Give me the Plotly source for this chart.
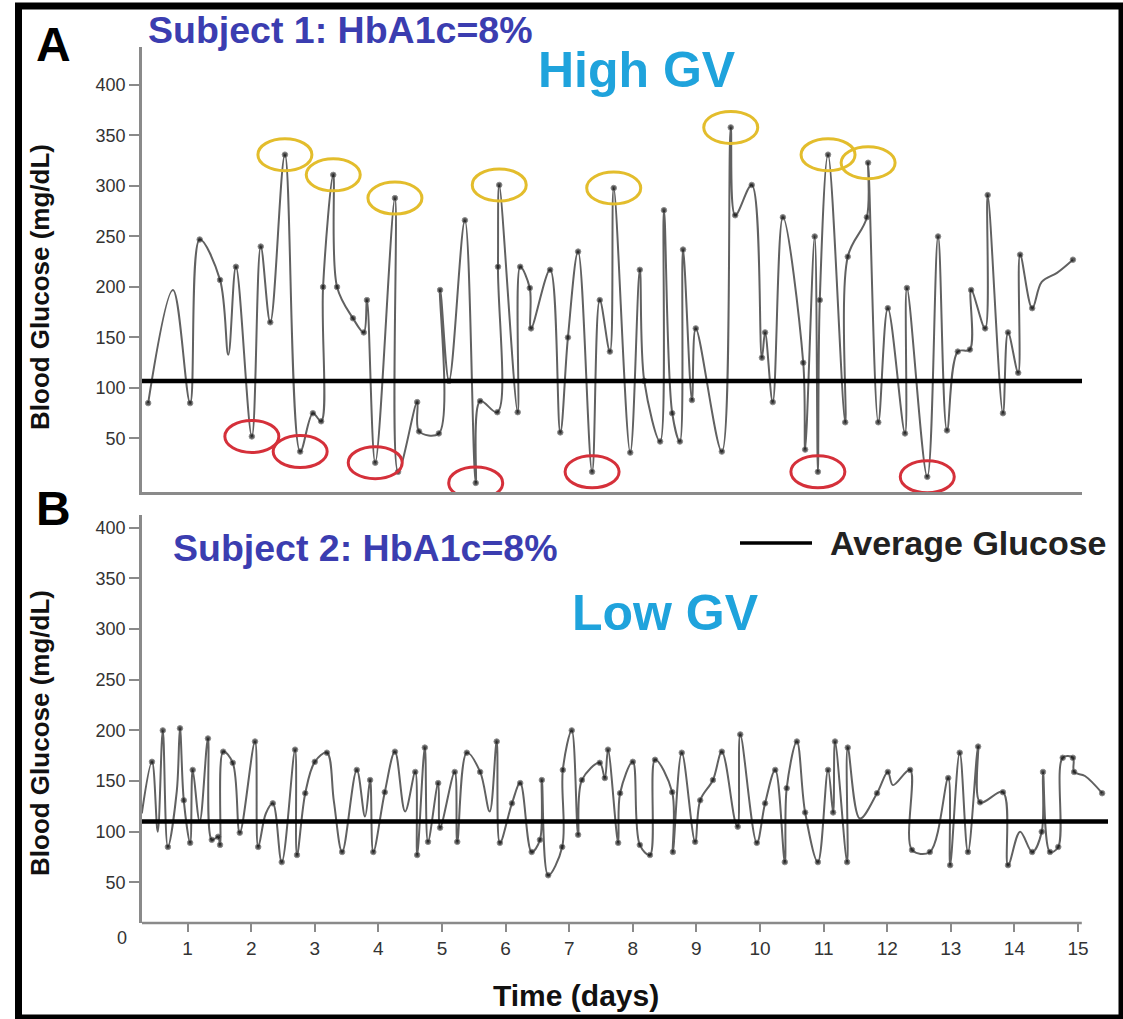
import plotly.graph_objects as go

W, H = 1123, 1019

# ---------------- data ----------------
# Panel A: Subject 1, high glycaemic variability
A_days = [0.38, 0.77, 1.04, 1.19, 1.51, 1.64, 1.76, 2.01, 2.15, 2.30, 2.53, 2.77, 2.97, 3.10, 3.13,
          3.29, 3.35, 3.60, 3.77, 3.82, 3.95, 4.26, 4.31, 4.61, 4.64, 4.95, 4.97, 5.11, 5.36, 5.53,
          5.60, 5.87, 5.88, 5.90, 6.19, 6.23, 6.38, 6.40, 6.70, 6.86, 6.98, 7.14, 7.36, 7.48, 7.64,
          7.70, 7.96, 8.11, 8.18, 8.43, 8.49, 8.62, 8.74, 8.79, 8.93, 8.99, 9.40, 9.54, 9.61, 9.87,
          10.03, 10.08, 10.20, 10.36, 10.68, 10.71, 10.86, 10.91, 10.94, 11.07, 11.34, 11.38, 11.68,
          11.70, 11.86, 12.01, 12.28, 12.31, 12.63, 12.80, 12.94, 13.11, 13.30, 13.32, 13.54, 13.58,
          13.82, 13.90, 14.06, 14.09, 14.28, 14.43, 14.67, 14.92]
A_glucose = [85, 197, 85, 247, 207, 133, 220, 52, 240, 165, 331, 37, 75, 67, 200,
             311, 200, 169, 155, 187, 26, 288, 17, 86, 57, 55, 197, 107, 266, 6,
             87, 76, 220, 301, 76, 220, 199, 159, 217, 56, 150, 235, 17, 187, 136,
             298, 36, 217, 107, 47, 276, 75, 47, 237, 88, 159, 37, 358, 271, 301,
             130, 155, 86, 269, 125, 39, 250, 17, 187, 331, 66, 230, 269,
             323, 66, 179, 55, 199, 12, 250, 58, 136, 138, 197, 159, 291,
             75, 155, 115, 232, 179, 205, 214, 227]
A_undotted = [1, 5, 91, 92]                 # curve turning points without a reading dot
A_high = [10, 15, 21, 33, 45, 57, 69, 73]   # readings circled in yellow
A_low = [7, 11, 20, 29, 42, 67, 78]         # readings circled in red
A_average = 107

# Panel B: Subject 2, low glycaemic variability
B_days = [0.28, 0.44, 0.53, 0.61, 0.69, 0.83, 0.88, 0.94, 1.04, 1.08,
          1.19, 1.32, 1.38, 1.48, 1.51, 1.56, 1.71, 1.82, 2.06, 2.11,
          2.23, 2.34, 2.48, 2.69, 2.72, 2.85, 3.00, 3.19, 3.30, 3.43,
          3.66, 3.79, 3.87, 3.92, 4.10, 4.26, 4.42, 4.58, 4.61, 4.73,
          4.78, 4.94, 4.97, 5.20, 5.24, 5.39, 5.60, 5.75, 5.86, 5.91,
          6.10, 6.23, 6.41, 6.54, 6.57, 6.67, 6.89, 6.90, 7.04, 7.14,
          7.20, 7.48, 7.56, 7.61, 7.77, 7.80, 8.00, 8.11, 8.27, 8.35,
          8.62, 8.63, 8.77, 8.98, 9.06, 9.26, 9.40, 9.61, 9.65, 9.69,
          9.95, 10.08, 10.24, 10.39, 10.42, 10.58, 10.71, 10.91, 11.07, 11.15,
          11.18, 11.37, 11.38, 11.57, 11.84, 12.01, 12.09, 12.36, 12.39, 12.67,
          12.96, 12.99, 13.14, 13.27, 13.43, 13.46, 13.82, 13.90, 14.09, 14.28,
          14.43, 14.45, 14.56, 14.69, 14.76, 14.92, 14.94, 15.11, 15.38]
B_glucose = [118, 169, 100, 200, 85, 140, 202, 131, 89, 161,
             110, 192, 92, 95, 87, 179, 168, 99, 189, 85,
             118, 128, 70, 181, 77, 138, 169, 178, 130, 80,
             161, 115, 151, 80, 139, 179, 120, 159, 77, 183,
             90, 148, 104, 159, 90, 178, 159, 120, 189, 89,
             128, 148, 80, 92, 151, 57, 85, 161, 200, 97,
             151, 168, 153, 181, 89, 138, 169, 87, 77, 171,
             139, 80, 178, 90, 131, 151, 179, 110, 105, 196,
             89, 128, 161, 70, 143, 189, 119, 70, 161, 119,
             189, 70, 183, 113, 138, 159, 146, 161, 82, 80,
             153, 67, 178, 80, 184, 129, 139, 67, 100, 80,
             100, 159, 80, 85, 173, 173, 159, 155, 138]
B_undotted = [0, 2, 5, 10, 20, 28, 31, 36, 47, 77, 93, 96, 108, 117]
B_average = 110

y_ticks = [50, 100, 150, 200, 250, 300, 350, 400]
x_ticks = list(range(1, 16))

# ---------------- styles ----------------
FONT = "Arial, 'Liberation Sans', sans-serif"
CURVE = "#616161"
AXIS = "#8a8a8a"
YELLOW = "#e3bd2c"
RED = "#d5303a"


def px_x(p):
    return p / W


def px_y(p):
    return 1 - p / H


fig = go.Figure()

fig.add_trace(go.Scatter(
    x=A_days, y=A_glucose, mode="lines+markers", xaxis="x", yaxis="y",
    line=dict(shape="spline", smoothing=1.0, color=CURVE, width=2),
    marker=dict(size=[0 if i in A_undotted else 5.5 for i in range(len(A_days))], color="#111111"),
    showlegend=False, hoverinfo="x+y"))

fig.add_trace(go.Scatter(
    x=B_days, y=B_glucose, mode="lines+markers", xaxis="x2", yaxis="y2",
    line=dict(shape="spline", smoothing=1.0, color=CURVE, width=2),
    marker=dict(size=[0 if i in B_undotted else 5.5 for i in range(len(B_days))], color="#111111"),
    showlegend=False, hoverinfo="x+y"))

shapes = []
# average glucose lines
shapes.append(dict(type="line", xref="x domain", yref="y", x0=0, x1=1, y0=A_average, y1=A_average,
                   line=dict(color="black", width=4.5)))
shapes.append(dict(type="line", xref="x2 domain", yref="y2", x0=0, x1=1, y0=B_average, y1=B_average,
                   line=dict(color="black", width=4.5)))
# bottom axis line of panel B (ends at day 15)
shapes.append(dict(type="line", xref="x2", yref="y2 domain", x0=0.283, x1=15.06, y0=0, y1=0,
                   line=dict(color=AXIS, width=2.5)))
# highlight ellipses around extreme readings
for idx_list, col in ((A_high, YELLOW), (A_low, RED)):
    for i in idx_list:
        shapes.append(dict(type="circle", xref="x", yref="y", xsizemode="pixel", ysizemode="pixel",
                           xanchor=A_days[i], yanchor=A_glucose[i], x0=-27, x1=27, y0=-16, y1=16,
                           line=dict(color=col, width=3)))
# legend line
shapes.append(dict(type="line", xref="paper", yref="paper", x0=px_x(740), x1=px_x(812),
                   y0=px_y(543), y1=px_y(543), line=dict(color="black", width=3.5)))
# outer frame
shapes.append(dict(type="rect", xref="paper", yref="paper", x0=px_x(18.5), x1=px_x(1122),
                   y0=px_y(1018), y1=px_y(6), line=dict(color="black", width=7)))


def ann(text, x, y, size, color="black", bold=True, xanchor="center", textangle=0):
    return dict(text=f"<b>{text}</b>" if bold else text, x=x, y=y, xref="paper", yref="paper",
                showarrow=False, xanchor=xanchor, yanchor="middle", textangle=textangle,
                font=dict(family=FONT, size=size, color=color))


annotations = [
    ann("A", px_x(53), px_y(44), 48),
    ann("B", px_x(53), px_y(508), 48),
    ann("Subject 1: HbA1c=8%", px_x(146), px_y(30), 37.5, "#3b3db0", xanchor="left"),
    ann("High GV", px_x(637), px_y(70), 50, "#1fa3dc"),
    ann("Subject 2: HbA1c=8%", px_x(171), px_y(548), 37.5, "#3b3db0", xanchor="left"),
    ann("Low GV", px_x(665), px_y(613), 50, "#1fa3dc"),
    ann("Average Glucose", px_x(828), px_y(543), 34, "#222222", xanchor="left"),
    ann("Time (days)", px_x(576), px_y(995), 30, "#111111"),
    ann("Blood Glucose (mg/dL)", px_x(40), px_y(287), 26, "#111111", textangle=-90),
    ann("Blood Glucose (mg/dL)", px_x(40), px_y(733), 26, "#111111", textangle=-90),
    dict(text="0", x=px_x(129), y=px_y(938), xref="paper", yref="paper", showarrow=False,
         xanchor="right", yanchor="middle", font=dict(family=FONT, size=18, color="#333333")),
]

yaxis_common = dict(tickvals=y_ticks, ticks="outside", ticklen=10, tickwidth=2, tickcolor=AXIS,
                    showline=True, linecolor=AXIS, linewidth=2.5, showgrid=False, zeroline=False,
                    tickfont=dict(family=FONT, size=18, color="#333333"))

fig.update_layout(
    width=W, height=H, autosize=False,
    margin=dict(l=0, r=0, t=0, b=0, pad=0),
    paper_bgcolor="white", plot_bgcolor="white",
    xaxis=dict(domain=[px_x(142), px_x(1082)], range=[0.283, 15.063], anchor="y",
               showline=True, linecolor=AXIS, linewidth=2.5, showticklabels=False, ticks="",
               showgrid=False, zeroline=False),
    yaxis=dict(domain=[px_y(492), px_y(47)], range=[-3, 437.6], anchor="x", **yaxis_common),
    xaxis2=dict(domain=[px_x(142), px_x(1108)], range=[0.283, 15.472], anchor="y2",
                showline=False, tickvals=x_ticks, ticks="outside", ticklen=8, tickwidth=2,
                tickcolor=AXIS, showgrid=False, zeroline=False,
                tickfont=dict(family=FONT, size=19, color="#333333")),
    yaxis2=dict(domain=[px_y(923), px_y(515)], range=[9.9, 412.6], anchor="x2", **yaxis_common),
    shapes=shapes,
    annotations=annotations,
)

fig.write_html("out.html", config={"displayModeBar": False})
